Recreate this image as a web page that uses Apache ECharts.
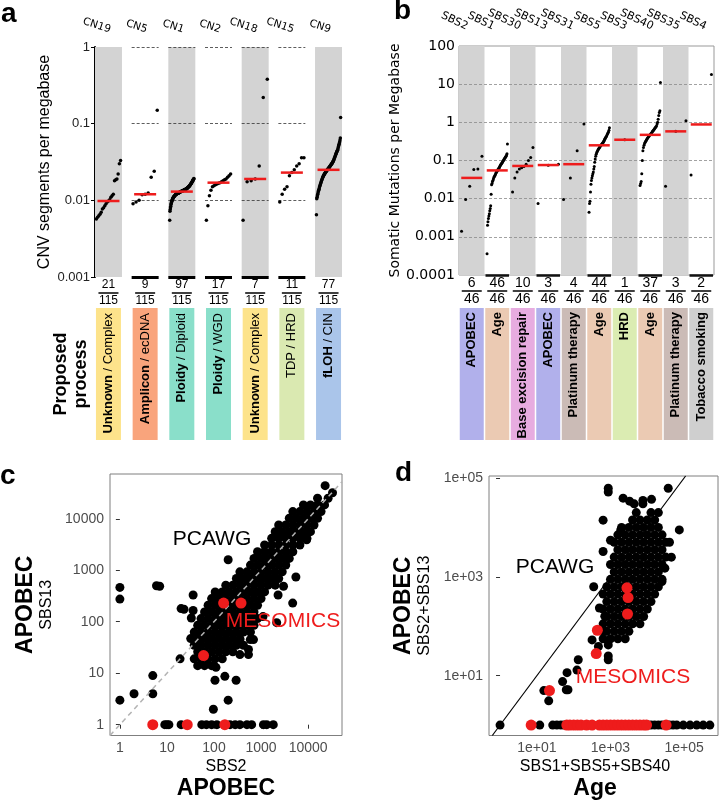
<!DOCTYPE html>
<html><head><meta charset="utf-8">
<script src="https://cdn.jsdelivr.net/npm/echarts@6/dist/echarts.min.js"></script>
<style>html,body{margin:0;padding:0;background:#fff}#c{width:719px;height:801px}</style>
</head><body><div id="c"></div>
<script>
// ================= Panel a : copy-number signatures =================
const cnSignatures = ['CN19','CN5','CN1','CN2','CN18','CN15','CN9'];
const cnCounts = [21,9,97,17,7,11,77];
const cnTotal = 115;
const cnProcessBold = ['Unknown','Amplicon','Ploidy','Ploidy','Unknown','','fLOH'];
const cnProcessRest = [' / Complex',' / ecDNA',' / Diploid',' / WGD',' / Complex','TDP / HRD',' / CIN'];
const cnMedians = [0.0098,0.012,0.013,0.017,0.019,0.023,0.025];
const cnYTicks = ['0.001','0.01','0.1','1'];
const cn19 = [0.0057,0.006,0.0063,0.0066,0.007,0.0077,0.008,0.0085,0.009,0.0095,0.0098,0.0102,0.011,0.0115,0.012,0.018,0.0185,0.019,0.022,0.03,0.033];
const cn5 = [0.009,0.0095,0.01,0.0118,0.012,0.0125,0.02,0.024,0.15];
const cn1 = [0.0055,0.0072,0.0076,0.0080,0.0084,0.0088,0.0091,0.0094,0.0097,0.0099,
  0.0101,0.0103,0.0105,0.0107,0.0108,0.0110,0.0111,0.0112,0.0113,0.0114,
  0.0115,0.0116,0.0117,0.0118,0.0119,0.0120,0.0120,0.0121,0.0122,0.0122,
  0.0123,0.0123,0.0124,0.0124,0.0125,0.0125,0.0126,0.0126,0.0127,0.0127,
  0.0128,0.0128,0.0129,0.0129,0.0130,0.0130,0.0130,0.0131,0.0131,0.0132,
  0.0132,0.0133,0.0133,0.0134,0.0134,0.0135,0.0135,0.0136,0.0136,0.0137,
  0.0137,0.0138,0.0139,0.0139,0.0140,0.0141,0.0142,0.0142,0.0143,0.0144,
  0.0145,0.0146,0.0147,0.0148,0.0149,0.0150,0.0151,0.0152,0.0154,0.0155,
  0.0157,0.0158,0.0160,0.0162,0.0164,0.0166,0.0168,0.0170,0.0172,0.0175,
  0.0177,0.0180,0.0182,0.0185,0.0188,0.0190,0.0193];
const cn2 = [0.0055,0.0085,0.0115,0.0135,0.015,0.0155,0.016,0.0163,0.0167,0.017,0.0175,0.018,0.0185,0.019,0.02,0.021,0.022];
const cn18 = [0.0055,0.0175,0.018,0.019,0.028,0.22,0.38];
const cn15 = [0.0095,0.012,0.014,0.015,0.021,0.023,0.025,0.028,0.03,0.036,0.036];
const cn9 = [0.0065,0.0105,0.011,0.0115,0.012,0.0125,0.013,0.0135,0.014,0.0145,
  0.015,0.0155,0.016,0.0165,0.017,0.0175,0.018,0.0185,0.019,0.0195,
  0.020,0.0205,0.021,0.0213,0.0216,0.022,0.0223,0.0226,0.023,0.0233,
  0.0236,0.024,0.0243,0.0246,0.025,0.0253,0.0256,0.026,0.0263,
  0.0266,0.027,0.0273,0.0276,0.028,0.0284,0.0288,0.0292,0.0296,0.030,0.0305,
  0.031,0.0315,0.032,0.0325,0.033,0.034,0.035,0.036,0.037,0.038,
  0.039,0.040,0.041,0.042,0.043,0.044,0.045,0.046,0.048,0.050,
  0.052,0.054,0.056,0.058,0.061,0.065,0.12];
const cnValues = [cn19, cn5, cn1, cn2, cn18, cn15, cn9];

// ================= Panel b : SBS signatures =================
const sbsSignatures = ['SBS2','SBS1','SBS30','SBS13','SBS31','SBS5','SBS3','SBS40','SBS35','SBS4'];
const sbsCounts = [6,46,10,3,4,44,1,37,3,2];
const sbsTotal = 46;
const sbsProcess = ['APOBEC','Age','Base excision repair','APOBEC','Platinum therapy','Age','HRD','Age','Platinum therapy','Tobacco smoking'];
const sbsMedians = [0.035,0.055,0.072,0.076,0.08,0.25,0.35,0.47,0.58,0.88];
const sbsYTicks = ['0.0001','0.001','0.01','0.1','1','10','100'];
const sbs2 = [0.0014,0.0095,0.021,0.058,0.06,0.13];
const sbs1 = [0.00036,0.002,0.0025,0.003,0.0035,0.004,0.0048,0.0055,0.0065,0.013,0.023,
  0.025,0.028,0.03,0.033,0.036,0.038,0.04,0.042,0.045,0.048,
  0.05,0.052,0.055,0.058,0.06,0.063,0.066,0.07,0.073,0.077,
  0.08,0.083,0.087,0.09,0.095,0.1,0.105,0.11,0.115,0.12,
  0.125,0.13,0.14,0.15,0.27];
const sbs30 = [0.015,0.035,0.05,0.06,0.065,0.07,0.08,0.1,0.12,0.22];
const sbs13 = [0.0075,0.075,0.08];
const sbs31 = [0.0095,0.035,0.18,0.9];
const sbs5 = [0.0044,0.0075,0.0085,0.015,0.024,0.03,0.035,0.04,0.045,0.05,
  0.06,0.07,0.09,0.11,0.13,0.145,0.16,0.17,0.18,0.19,
  0.2,0.21,0.22,0.23,0.24,0.25,0.26,0.27,0.28,0.29,
  0.3,0.32,0.34,0.36,0.38,0.4,0.42,0.44,0.47,0.5,
  0.53,0.56,0.62,0.72];
const sbs3 = [0.35];
const sbs40 = [0.022,0.025,0.028,0.045,0.1,0.18,0.22,0.25,0.28,0.3,
  0.32,0.34,0.36,0.38,0.4,0.42,0.44,0.46,0.48,0.5,
  0.52,0.55,0.58,0.6,0.63,0.66,0.7,0.73,0.77,0.8,
  0.9,1.0,1.2,1.5,1.8,2.0,11];
const sbs35 = [0.021,0.58,1.1];
const sbs4 = [0.042,18];
const sbsValues = [sbs2,sbs1,sbs30,sbs13,sbs31,sbs5,sbs3,sbs40,sbs35,sbs4];

// ================= Panel c : APOBEC SBS2 vs SBS13 =================
const cTickLabels = ['1','10','100','1000','10000'];
const cPcawg = [
 [45,14],[63,14],[89,14],
 [38,19],[53,19],[75,19],[106,19],[150,19],
 [45,26],[63,26],[89,26],[126,26],[178,26],[251,26],
 [38,35],[53,35],[75,35],[106,35],[150,35],[211,35],[299,35],[422,35],
 [32,47],[45,47],[63,47],[89,47],[126,47],[178,47],[251,47],[355,47],
 [38,63],[53,63],[75,63],[106,63],[150,63],[211,63],[299,63],[422,63],[596,63],
 [45,85],[63,85],[89,85],[126,85],[178,85],[251,85],[355,85],[501,85],[708,85],
 [53,115],[75,115],[106,115],[150,115],[211,115],[299,115],[422,115],[596,115],[841,115],
 [63,155],[89,155],[126,155],[178,155],[251,155],[355,155],[501,155],[708,155],
 [75,209],[106,209],[150,209],[211,209],[299,209],[422,209],[596,209],[841,209],
 [89,282],[126,282],[178,282],[251,282],[355,282],[501,282],[708,282],[1000,282],
 [106,380],[150,380],[211,380],[299,380],[422,380],[596,380],[841,380],[1189,380],
 [178,513],[251,513],[355,513],[501,513],[708,513],[1000,513],[1413,513],[1995,513],
 [299,692],[422,692],[596,692],[841,692],[1189,692],[1679,692],[2371,692],
 [355,933],[501,933],[708,933],[1000,933],[1413,933],[1995,933],[2818,933],
 [596,1259],[841,1259],[1189,1259],[1679,1259],[2371,1259],[3350,1259],
 [708,1698],[1000,1698],[1413,1698],[1995,1698],[2818,1698],[3981,1698],
 [841,2291],[1189,2291],[1679,2291],[2371,2291],[3350,2291],[4732,2291],
 [1189,3090],[1679,3090],[2371,3090],[3350,3090],[4732,3090],[6683,3090],
 [1679,4169],[2371,4169],[3350,4169],[4732,4169],[6683,4169],[9441,4169],
 [1995,5623],[2818,5623],[3981,5623],[5623,5623],[7943,5623],[11220,5623],
 [2371,7586],[3350,7586],[4732,7586],[6683,7586],[9441,7586],[13335,7586],
 [3981,10233],[5623,10233],[7943,10233],[11220,10233],[15849,10233],
 [4732,13804],[6683,13804],[9441,13804],[13335,13804],[18836,13804],
 [7943,18621],[11220,18621],[15849,18621],[22387,18621],
 [15849,25119],[26607,25119],[23000,44000],[33000,32000],
 [1,465],[1,275],[6,500],[7,490],[20,180],[23,175],[36,165],[36,330],[33,118],
 [1,3],[2,4],[5,9],[5,4],[19,19],[97,2],[200,3],[170,8.7],[105,7.3],[295,7.3],[110,13],
 [200,1600],[5500,740],[9300,3900],[2300,330],[4700,230],[3000,490],[2150,96],[1100,126],
 [690,45],[355,23],[540,23],[540,29],[355,45],[590,45]
];
const cPcawgNoSBS13 = [9,10,11,20,55,69,89,115,219,282,355,501,631,1122,1318,1820];
const cMesomics = [[5,1],[27,1],[170,1],[60,22],[160,230],[375,230]];

// ================= Panel d : Age vs APOBEC =================
const dTickValues = [1,3,5];
const dTickLabels = ['1e+01','1e+03','1e+05'];
const dPcawg = [
 [631,56],[1000,56],[1585,56],[2512,56],
 [794,79],[1259,79],[1995,79],[3162,79],
 [631,112],[1000,112],[1585,112],[2512,112],[3981,112],[6310,112],
 [794,158],[1259,158],[1995,158],[3162,158],[5012,158],[7943,158],
 [631,224],[1000,224],[1585,224],[2512,224],[3981,224],[6310,224],[10000,224],
 [794,316],[1259,316],[1995,316],[3162,316],[5012,316],[7943,316],[12589,316],
 [631,447],[1000,447],[1585,447],[2512,447],[3981,447],[6310,447],[10000,447],[15849,447],
 [794,631],[1259,631],[1995,631],[3162,631],[5012,631],[7943,631],[12589,631],[19953,631],
 [1000,891],[1585,891],[2512,891],[3981,891],[6310,891],[10000,891],[15849,891],[25119,891],
 [1259,1259],[1995,1259],[3162,1259],[5012,1259],[7943,1259],[12589,1259],[19953,1259],
 [1000,1778],[1585,1778],[2512,1778],[3981,1778],[6310,1778],[10000,1778],[15849,1778],[25119,1778],
 [1259,2512],[1995,2512],[3162,2512],[5012,2512],[7943,2512],[12589,2512],[19953,2512],[31623,2512],
 [1585,3548],[2512,3548],[3981,3548],[6310,3548],[10000,3548],[15849,3548],[25119,3548],
 [1259,5012],[1995,5012],[3162,5012],[5012,5012],[7943,5012],[12589,5012],[19953,5012],[31623,5012],
 [1585,7079],[2512,7079],[3981,7079],[6310,7079],[10000,7079],[15849,7079],[25119,7079],
 [1995,10000],[3162,10000],[5012,10000],[7943,10000],[12589,10000],[19953,10000],
 [3981,14125],[6310,14125],[10000,14125],[15849,14125],
 [5012,19953],[12589,19953],[19953,19953],
 [870,62000],[870,52000],[2200,39000],[3300,34000],[4400,30000],[7600,30000],[7600,35000],
 [13000,37000],[37000,62000],[74000,8900],[630,14000],[1900,8900],[630,3250],[1000,5500],
 [350,630],[500,234],[316,53],[870,42],[870,25],[870,21],[470,39],[133,21],[123,13],
 [66,11.5],[50,7.6],[63,5.2],[70,5.2],[15.5,5],[21,3.1],[40000,5000],[45000,2500],
 [30000,1500],[25000,800],[600,80],[700,160]
];
const dPcawgNoAPOBEC = [1,12,27,35,45,55,10000,12600,15800,20000,25000,40000,50000,63000,95000,145000,220000,330000,500000];
const dMesomics = [[7,1],[22,5],[410,28],[440,83],[2900,177],[3000,380],[2800,600]];
const dMesomicsNoAPOBEC = [65,79,100,126,158,224,316,501,631,794,1000,1259,1585,1995,2512,3162,3981,5012,6310,7943,9550,32400];

// ================= styles / layout (not data) =================
const cnColors = ['#fde38b','#f9a47c','#8adfca','#8adfca','#fde38b','#dae9b1','#aac5ea'];
const sbsColors = ['#b1b0eb','#ebcab3','#e7ace0','#b1b0eb','#cbbbb6','#ebcab3','#dbecb2','#ebcab3','#cbbbb6','#cfcfcf'];
const RED = '#ee1c1c';
const L = Math.log10;

function spreadPoints(cols, w){
  const out = [];
  cols.forEach((vals, i) => {
    const s = vals.slice().sort((a,b)=>a-b), n = s.length;
    s.forEach((v,k) => { const f = n>1 ? k/(n-1)-0.5 : 0; out.push([i+0.5+f*w, L(v)]); });
  });
  return out;
}
const cnCenters = cnSignatures.map((_,i)=>i+0.5);
const sbsCenters = sbsSignatures.map((_,i)=>i+0.5);

const aBands = [], aSegs = [];
cnSignatures.forEach((_,i)=>{
  const x0 = i+0.132, x1 = i+0.868;
  if (i%2===0) aBands.push([{xAxis:x0},{xAxis:x1}]);
  [-2,-1,0].forEach(y=>aSegs.push([{coord:[x0,y]},{coord:[x1,y]}]));
  aSegs.push([{coord:[x0,-3], lineStyle:{type:'solid', color:'#000', width:3}},{coord:[x1,-3]}]);
});
const bBands = [], bSegs = [];
sbsSignatures.forEach((_,i)=>{
  if (i%2===0) bBands.push([{xAxis:i},{xAxis:i+1}]);
  else bSegs.push([{coord:[i+0.04,-4], lineStyle:{type:'solid', color:'#111', width:2.5}},{coord:[i+0.96,-4]}]);
});
[-3,-2,-1,0,1].forEach(y=>bSegs.push([{coord:[0,y]},{coord:[10,y]}]));

const fracRich = (fs) => ({
  n:{fontSize:fs, lineHeight:14, color:'#000', align:'center'},
  l:{width:20, height:1.5, lineHeight:2, fontSize:1, backgroundColor:'#000'},
  d:{fontSize:fs, lineHeight:14, color:'#000', align:'center'}
});
const hidden = {axisLine:{show:false}, axisTick:{show:false}, splitLine:{show:false}};
const solid = {opacity:1, borderWidth:0};

const option = {
  animation:false,
  backgroundColor:'#fff',
  textStyle:{fontFamily:'Liberation Sans, Arial, sans-serif'},
  grid:[
    {left:95, top:47, width:247, height:230},
    {left:95, top:308, width:247, height:132},
    {left:459, top:46, width:255, height:229, show:true, borderColor:'#999', borderWidth:1},
    {left:459, top:308, width:255, height:132},
    {left:110, top:474, width:232, height:262, show:true, borderColor:'#7f7f7f', borderWidth:1},
    {left:489, top:476, width:229, height:260, show:true, borderColor:'#7f7f7f', borderWidth:1},
    {left:92, top:47, width:256.8, height:10},
    {left:454, top:46, width:272, height:10}
  ],
  xAxis:[
    Object.assign({gridIndex:0, type:'value', min:0.133, max:6.867, position:'bottom',
      axisLabel:{customValues:cnCenters, margin:1, formatter:v=>{const i=Math.round(v-0.5);return '{n|'+cnCounts[i]+'}\n{l| }\n{d|'+cnTotal+'}';}, rich:fracRich(12)}}, hidden),
    Object.assign({gridIndex:6, type:'category', data:cnSignatures, position:'top',
      axisLabel:{interval:0, rotate:-18, margin:17, align:'right', verticalAlign:'middle', fontSize:10.5, color:'#000', fontFamily:'DejaVu Sans'}}, hidden),
    Object.assign({gridIndex:2, type:'value', min:0, max:10, position:'bottom',
      axisLabel:{customValues:sbsCenters, margin:1, formatter:v=>{const i=Math.round(v-0.5);return '{n|'+sbsCounts[i]+'}\n{l| }\n{d|'+sbsTotal+'}';}, rich:fracRich(14)}}, hidden),
    Object.assign({gridIndex:7, type:'category', data:sbsSignatures, position:'top',
      axisLabel:{interval:0, rotate:-25, margin:19, align:'right', verticalAlign:'middle', fontSize:11, color:'#000', fontFamily:'DejaVu Sans'}}, hidden),
    Object.assign({gridIndex:1, type:'value', min:0.133, max:6.867, axisLabel:{show:false}}, hidden),
    Object.assign({gridIndex:3, type:'value', min:0, max:10, axisLabel:{show:false}}, hidden),
    {gridIndex:4, type:'value', min:-0.21, max:4.72, axisLine:{show:false}, splitLine:{show:false},
      axisTick:{show:true, customValues:[0,1,2,3,4], length:4, lineStyle:{color:'#333'}},
      axisLabel:{customValues:[0,1,2,3,4], formatter:v=>cTickLabels[Math.round(v)], color:'#4d4d4d', fontSize:14, margin:6},
      name:'{s|SBS2}\n{b|APOBEC}', nameLocation:'middle', nameGap:21,
      nameTextStyle:{rich:{s:{fontSize:16, lineHeight:20, color:'#000'}, b:{fontSize:23, fontWeight:'bold', lineHeight:24, color:'#000'}}}},
    {gridIndex:5, type:'value', min:-0.30, max:5.92, axisLine:{show:false}, splitLine:{show:false},
      axisTick:{show:true, customValues:dTickValues, length:4, lineStyle:{color:'#333'}},
      axisLabel:{customValues:dTickValues, formatter:v=>dTickLabels[dTickValues.indexOf(Math.round(v))], color:'#4d4d4d', fontSize:14, margin:6},
      name:'{s|SBS1+SBS5+SBS40}\n{b|Age}', nameLocation:'middle', nameGap:21,
      nameTextStyle:{padding:[0,17,0,0], rich:{s:{fontSize:16, lineHeight:20, color:'#000'}, b:{fontSize:23, fontWeight:'bold', lineHeight:24, color:'#000'}}}}
  ],
  yAxis:[
    {gridIndex:0, type:'value', min:-3, max:0, interval:1, splitLine:{show:false},
      axisLine:{show:true, lineStyle:{color:'#000', width:2}}, axisTick:{show:true, length:4, lineStyle:{color:'#000'}},
      axisLabel:{fontSize:13, color:'#222', margin:5, formatter:v=>cnYTicks[Math.round(v+3)]},
      name:'CNV segments per megabase', nameLocation:'middle', nameRotate:90, nameGap:42, nameTextStyle:{fontSize:16, color:'#000'}},
    Object.assign({gridIndex:1, type:'value', min:0, max:1, axisLabel:{show:false},
      name:'Proposed\nprocess', nameLocation:'middle', nameRotate:90, nameGap:4,
      nameTextStyle:{fontSize:18, fontWeight:'bold', lineHeight:20, color:'#000'}}, hidden),
    {gridIndex:2, type:'value', min:-4, max:2, interval:1, splitLine:{show:false}, axisLine:{show:false},
      axisTick:{show:false},
      axisLabel:{fontSize:14, color:'#000', margin:4, fontFamily:'DejaVu Sans', formatter:v=>sbsYTicks[Math.round(v+4)]},
      name:'Somatic Mutations per Megabase', nameLocation:'middle', nameRotate:90, nameGap:54,
      nameTextStyle:{fontSize:14, color:'#000', fontFamily:'DejaVu Sans'}},
    Object.assign({gridIndex:3, type:'value', min:0, max:1, axisLabel:{show:false}}, hidden),
    {gridIndex:4, type:'value', min:-0.21, max:4.87, axisLine:{show:false}, splitLine:{show:false},
      axisTick:{show:true, customValues:[0,1,2,3,4], length:4, lineStyle:{color:'#333'}},
      axisLabel:{customValues:[0,1,2,3,4], formatter:v=>cTickLabels[Math.round(v)], color:'#4d4d4d', fontSize:14, margin:6},
      name:'{b|APOBEC}\n{s|SBS13}', nameLocation:'middle', nameRotate:90, nameGap:53,
      nameTextStyle:{rich:{s:{fontSize:16, lineHeight:20, color:'#000'}, b:{fontSize:23, fontWeight:'bold', lineHeight:22, color:'#000'}}}},
    {gridIndex:5, type:'value', min:-0.21, max:5.04, axisLine:{show:false}, splitLine:{show:false},
      axisTick:{show:true, customValues:dTickValues, length:4, lineStyle:{color:'#333'}},
      axisLabel:{customValues:dTickValues, formatter:v=>dTickLabels[dTickValues.indexOf(Math.round(v))], color:'#4d4d4d', fontSize:14, margin:6},
      name:'{b|APOBEC}\n{s|SBS2+SBS13}', nameLocation:'middle', nameRotate:90, nameGap:54,
      nameTextStyle:{rich:{s:{fontSize:16, lineHeight:20, color:'#000'}, b:{fontSize:23, fontWeight:'bold', lineHeight:22, color:'#000'}}}},
    Object.assign({gridIndex:6, type:'value', axisLabel:{show:false}}, hidden),
    Object.assign({gridIndex:7, type:'value', axisLabel:{show:false}}, hidden)
  ],
  series:[
    {type:'scatter', xAxisIndex:0, yAxisIndex:0, data:spreadPoints(cnValues,0.66), symbolSize:3.5, itemStyle:Object.assign({color:'#000'},solid), z:3, silent:true,
      markArea:{silent:true, z:1, itemStyle:{color:'#d3d3d3'}, data:aBands},
      markLine:{silent:true, z:2, symbol:['none','none'], label:{show:false}, lineStyle:{type:[3,2], color:'#333', width:0.8}, data:aSegs}},
    {type:'scatter', xAxisIndex:0, yAxisIndex:0, data:cnMedians.map((m,i)=>[i+0.5,L(m)]), symbol:'rect', symbolSize:[22,2.5], itemStyle:Object.assign({color:RED},solid), z:4, silent:true},
    {type:'bar', xAxisIndex:4, yAxisIndex:1, barWidth:25, silent:true,
      data:cnSignatures.map((_,i)=>({value:[i+0.5,1], itemStyle:{color:cnColors[i]}})),
      label:{show:true, position:'insideTop', distance:5, rotate:90, align:'right', verticalAlign:'middle',
        formatter:p=>{const i=p.dataIndex;return (cnProcessBold[i]?'{b|'+cnProcessBold[i]+'}':'')+'{r|'+cnProcessRest[i]+'}';},
        rich:{b:{fontWeight:'bold', fontSize:13, color:'#000'}, r:{fontSize:13, color:'#000'}}}},
    {type:'scatter', xAxisIndex:2, yAxisIndex:2, data:spreadPoints(sbsValues,0.8), symbolSize:3, itemStyle:Object.assign({color:'#000'},solid), z:3, silent:true,
      markArea:{silent:true, z:1, itemStyle:{color:'#d3d3d3'}, data:bBands},
      markLine:{silent:true, z:2, symbol:['none','none'], label:{show:false}, lineStyle:{type:[3,2], color:'#8a8a8a', width:0.8}, data:bSegs}},
    {type:'scatter', xAxisIndex:2, yAxisIndex:2, data:sbsMedians.map((m,i)=>[i+0.5,L(m)]), symbol:'rect', symbolSize:[21,2.5], itemStyle:Object.assign({color:RED},solid), z:4, silent:true},
    {type:'bar', xAxisIndex:5, yAxisIndex:3, barWidth:24, silent:true,
      data:sbsSignatures.map((_,i)=>({value:[i+0.5,1], itemStyle:{color:sbsColors[i]}})),
      label:{show:true, position:'insideTop', distance:4, rotate:90, align:'right', verticalAlign:'middle',
        formatter:p=>sbsProcess[p.dataIndex], fontWeight:'bold', fontSize:13, color:'#000'}},
    {type:'scatter', xAxisIndex:6, yAxisIndex:4, silent:true, symbolSize:9, itemStyle:Object.assign({color:'#000'},solid), z:3,
      data:cPcawg.map(p=>[L(p[0]),L(p[1])]).concat(cPcawgNoSBS13.map(x=>[L(x),0])),
      markLine:{silent:true, z:4, symbol:['none','none'], label:{show:false}, lineStyle:{type:[5,4], color:'#b3b3b3', width:1.5},
        data:[[{coord:[-0.21,-0.21]},{coord:[4.72,4.72]}]]}},
    {type:'scatter', xAxisIndex:6, yAxisIndex:4, silent:true, symbolSize:11, itemStyle:Object.assign({color:RED},solid), z:6,
      data:cMesomics.map(p=>[L(p[0]),L(p[1])])},
    {type:'scatter', xAxisIndex:7, yAxisIndex:5, silent:true, symbolSize:9, itemStyle:Object.assign({color:'#000'},solid), z:3,
      data:dPcawg.map(p=>[L(p[0]),L(p[1])]).concat(dPcawgNoAPOBEC.map(x=>[L(x),0])),
      markLine:{silent:true, z:4, symbol:['none','none'], label:{show:false}, lineStyle:{type:'solid', color:'#000', width:1.2},
        data:[[{coord:[-0.21,-0.21]},{coord:[5.04,5.04]}]]}},
    {type:'scatter', xAxisIndex:7, yAxisIndex:5, silent:true, symbolSize:11, itemStyle:Object.assign({color:RED},solid), z:6,
      data:dMesomics.map(p=>[L(p[0]),L(p[1])]).concat(dMesomicsNoAPOBEC.map(x=>[L(x),0]))}
  ],
  graphic:[
    {type:'text', left:1, top:0, style:{text:'a', font:'bold 28px "Liberation Sans"', fill:'#000'}},
    {type:'text', left:394, top:-3, style:{text:'b', font:'bold 28px "Liberation Sans"', fill:'#000'}},
    {type:'text', left:0, top:462, style:{text:'c', font:'bold 28px "Liberation Sans"', fill:'#000'}},
    {type:'text', left:395, top:459, style:{text:'d', font:'bold 28px "Liberation Sans"', fill:'#000'}},
    {type:'text', x:212, y:539, z:10, style:{text:'PCAWG', font:'21px "Liberation Sans"', fill:'#000', align:'center', verticalAlign:'middle'}},
    {type:'text', x:283, y:621, z:10, style:{text:'MESOMICS', font:'21px "Liberation Sans"', fill:RED, align:'center', verticalAlign:'middle'}},
    {type:'text', x:555, y:567, z:10, style:{text:'PCAWG', font:'21px "Liberation Sans"', fill:'#000', align:'center', verticalAlign:'middle'}},
    {type:'text', x:633, y:677, z:10, style:{text:'MESOMICS', font:'21px "Liberation Sans"', fill:RED, align:'center', verticalAlign:'middle'}}
  ]
};
const chart = echarts.init(document.getElementById('c'));
chart.setOption(option);
</script></body></html>
